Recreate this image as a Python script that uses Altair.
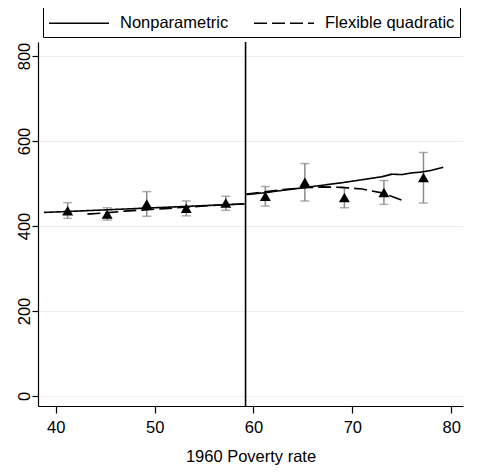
import altair as alt
import pandas as pd

FONT = "Liberation Sans"

# Binned means with confidence intervals
bin_x = [41.2, 45.2, 49.2, 53.2, 57.2, 61.2, 65.2, 69.2, 73.2, 77.2]
bin_y = [436, 428, 452, 442, 454, 470, 503, 467, 479, 514]
bin_lo = [418, 414, 423, 424, 437, 447, 459, 443, 451, 454]
bin_hi = [455, 443, 481, 459, 470, 493, 547, 490, 507, 573]

# Nonparametric fit (left and right of cutoff)
np_left_x = [38.8, 41, 43, 45, 47, 49, 51, 53, 55, 57, 59.1]
np_left_y = [432, 434, 436, 438, 440, 442, 444, 446, 448, 450, 452]
np_right_x = [59.3, 61, 63, 65, 67, 69, 71, 73, 74, 75, 76, 77, 78, 79.2]
np_right_y = [474, 478, 484, 490, 496, 502, 509, 516, 522, 521, 525, 527, 531, 538]

# Flexible quadratic fit
fq_left_x = [43.2, 45, 47, 49, 51, 53, 55, 57, 59.1]
fq_left_y = [428, 431, 435, 438, 441, 444, 447, 450, 452]
fq_right_x = [59.3, 61, 63, 65, 67, 69, 71, 73, 75.1]
fq_right_y = [475, 480, 486, 490, 492, 491, 487, 478, 460]

cutoff = [59.2]
series_names = ["Nonparametric", "Flexible quadratic"]

rows = []
for xs, ys, s, seg in [
    (np_left_x, np_left_y, series_names[0], "L"),
    (np_right_x, np_right_y, series_names[0], "R"),
    (fq_left_x, fq_left_y, series_names[1], "L"),
    (fq_right_x, fq_right_y, series_names[1], "R"),
]:
    for x, y in zip(xs, ys):
        rows.append({"x": x, "y": y, "series": s, "seg": s + seg})
lines_df = pd.DataFrame(rows)

pts_df = pd.DataFrame({"x": bin_x, "y": bin_y, "lo": bin_lo, "hi": bin_hi})
cut_df = pd.DataFrame({"x": cutoff})

xscale = alt.Scale(domain=[38.2, 81.2], nice=False, zero=False)
yscale = alt.Scale(domain=[-23.5, 833], nice=False, zero=False)

xaxis = alt.Axis(values=[40, 50, 60, 70, 80], grid=False, title="1960 Poverty rate",
                 tickSize=7, labelPadding=6, titlePadding=13, format="d")
yaxis = alt.Axis(values=[0, 200, 400, 600, 800], grid=True, title=None,
                 tickSize=6, labelAngle=270, labelAlign="center",
                 labelBaseline="middle", labelPadding=8, format="d")

base_lines = alt.Chart(lines_df).mark_line(strokeWidth=1.6, color="black").encode(
    x=alt.X("x:Q", scale=xscale, axis=xaxis),
    y=alt.Y("y:Q", scale=yscale, axis=yaxis),
    detail="seg:N",
    strokeDash=alt.StrokeDash(
        "series:N",
        scale=alt.Scale(domain=series_names, range=[[1, 0], [13, 5]]),
        legend=alt.Legend(
            title=None, orient="none", legendX=5, legendY=-55,
            direction="horizontal", symbolType="stroke", symbolSize=3600,
            symbolStrokeWidth=1.6, symbolStrokeColor="black",
            labelFontSize=16.5, labelFont=FONT, labelColor="black",
            labelOffset=10, columnPadding=21, padding=5,
            strokeColor="black", fillColor="white",
        ),
    ),
)

err = alt.Chart(pts_df).mark_rule(color="#8a8a8a", strokeWidth=1.5).encode(
    x="x:Q", y="lo:Q", y2="hi:Q"
)
cap_lo = alt.Chart(pts_df).mark_tick(color="#8a8a8a", size=9, thickness=1.5,
                                    orient="horizontal").encode(x="x:Q", y="lo:Q")
cap_hi = alt.Chart(pts_df).mark_tick(color="#8a8a8a", size=9, thickness=1.5,
                                    orient="horizontal").encode(x="x:Q", y="hi:Q")
pts = alt.Chart(pts_df).mark_point(shape="triangle-up", filled=True, color="black",
                                   size=120, opacity=1).encode(x="x:Q", y="y:Q")

cut = alt.Chart(cut_df).mark_rule(color="black", strokeWidth=1.6).encode(x="x:Q")

chart = alt.layer(err, cap_lo, cap_hi, base_lines, pts, cut).properties(
    width=425, height=364,
    autosize=alt.AutoSizeParams(type="none"),
    padding={"left": 30, "top": 34, "right": 4, "bottom": 59},
).configure_view(stroke=None).configure_axis(
    labelFont=FONT, titleFont=FONT, labelFontSize=16.5, titleFontSize=16.5,
    labelColor="black", titleColor="black", titleFontWeight="normal",
    domainColor="black", tickColor="black", domainWidth=1.2, tickWidth=1.2,
    gridColor="#ececec", gridWidth=1.2,
)

chart.save("out.html", embed_options={"renderer": "svg", "actions": False})
